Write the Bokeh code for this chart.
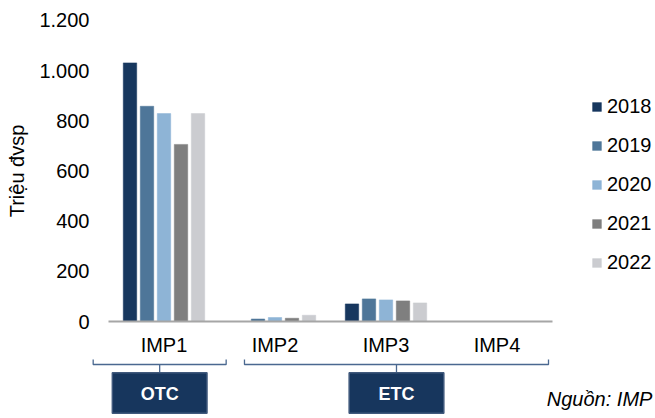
import math
from bokeh.plotting import figure
from bokeh.models import (ColumnDataSource, Range1d, FixedTicker, Legend, LegendItem)
from bokeh.transform import dodge
from bokeh.embed import file_html
from bokeh.resources import INLINE

# ---- data ----
categories = ["IMP1", "IMP2", "IMP3", "IMP4"]
years = ["2018", "2019", "2020", "2021", "2022"]
v2018 = [1031, 0, 70, 0]
v2019 = [858, 10, 90, 0]
v2020 = [829, 16, 86, 0]
v2021 = [706, 13, 82, 0]
v2022 = [829, 25, 74, 0]
y_ticks = [0, 200, 400, 600, 800, 1000, 1200]
y_tick_labels = ["0", "200", "400", "600", "800", "1.000", "1.200"]
groups = ["OTC", "ETC"]
group_first = [0, 1]
group_last = [0, 3]
source_note = "Nguồn: IMP"
y_title = "Triệu đvsp"

colors = ["#17375E", "#4E7699", "#8EB4D6", "#7F7F7F", "#CBCCD0"]
FONT = "Liberation Sans"

series = [v2018, v2019, v2020, v2021, v2022]
xc = [i + 0.5 for i in range(len(categories))]
data = {"x": xc}
for y, s in zip(years, series):
    data[y] = s
src = ColumnDataSource(data)

p = figure(width=655, height=418, output_backend="svg", toolbar_location=None,
           x_range=Range1d(-0.97297, 4.92793), y_range=Range1d(-386.7, 1279.7),
           title=None, min_border=0,
           min_border_left=0, min_border_right=0, min_border_top=0, min_border_bottom=0)
p.outline_line_color = None
p.xgrid.visible = False
p.ygrid.visible = False
p.background_fill_color = "white"
p.border_fill_color = "white"

step = 0.1532
bw = 0.121
renderers = []
for k, y in enumerate(years):
    r = p.vbar(x=dodge("x", (k - 2) * step, range=p.x_range), top=y, bottom=0,
               width=bw, source=src, fill_color=colors[k], line_color=colors[k],
               line_width=0.5)
    renderers.append(r)

# x axis (category axis) at value 0
xa = p.xaxis[0]
xa.fixed_location = 0
xa.bounds = (0, len(categories))
xa.ticker = FixedTicker(ticks=xc)
xa.major_label_overrides = {t: c for t, c in zip(xc, categories)}
xa.axis_line_color = "#A6A6A6"
xa.axis_line_width = 2
xa.major_tick_line_color = None
xa.minor_tick_line_color = None
xa.major_tick_out = 0
xa.major_tick_in = 0
xa.minor_tick_out = 0
xa.major_label_standoff = 12
xa.major_label_text_font_size = "20px"
xa.major_label_text_font = FONT
xa.major_label_text_color = "#000000"

# y axis, placed left of the category area
ya = p.yaxis[0]
ya.fixed_location = -0.16216
ya.ticker = FixedTicker(ticks=y_ticks)
ya.major_label_overrides = {t: l for t, l in zip(y_ticks, y_tick_labels)}
ya.axis_line_color = None
ya.major_tick_line_color = None
ya.minor_tick_line_color = None
ya.major_tick_out = 0
ya.major_tick_in = 0
ya.minor_tick_out = 0
ya.major_label_standoff = 1
ya.major_label_text_font_size = "20px"
ya.major_label_text_font = FONT
ya.major_label_text_color = "#000000"

# y axis title, centred on the 0..1200 value span
p.text(x=[-0.82], y=[(y_ticks[0] + y_ticks[-1]) / 2], text=[y_title], angle=math.pi / 2,
       text_align="center", text_baseline="middle", text_font_size="20px",
       text_font={"value": FONT}, text_color="#000000")

# group brackets and boxes
lpad = [-0.138, 0.225]
rpad = [0.060, -0.036]
bx0, bx1, bm = [], [], []
for g in range(len(groups)):
    a = group_first[g] + lpad[g]
    b = group_last[g] + 1 + rpad[g]
    bx0.append(a); bx1.append(b); bm.append((a + b) / 2)
y_br, y_end, y_tick = -171.4, -151.5, -204.5
p.multi_line(xs=[[a, a, b, b] for a, b in zip(bx0, bx1)],
             ys=[[y_end, y_br, y_br, y_end] for _ in bx0],
             line_color="#4A6890", line_width=1.3)
p.segment(x0=bm, y0=[y_br] * len(bm), x1=bm, y1=[y_tick] * len(bm),
          line_color="#4A6890", line_width=1.3)
p.rect(x=bm, y=[-285] * len(bm), width=[0.853] * len(bm), height=[161] * len(bm),
       fill_color="#17365D", line_color="#40597C", line_width=1.5)
p.text(x=bm, y=[-290] * len(bm), text=groups, text_align="center",
       text_baseline="middle", text_font_size="18px", text_font_style="bold",
       text_font={"value": FONT}, text_color="white")

# source note
p.text(x=[4.90], y=[-307], text=[source_note], text_align="right",
       text_baseline="middle", text_font_size="20px", text_font_style="italic",
       text_font={"value": FONT}, text_color="#000000")

legend = Legend(items=[LegendItem(label=y, renderers=[r]) for y, r in zip(years, renderers)],
                location=(591, 144), orientation="vertical",
                glyph_width=11, glyph_height=11, label_standoff=5,
                spacing=16, padding=0, margin=0, border_line_color=None,
                background_fill_alpha=0, label_text_font_size="20px",
                label_text_font=FONT, label_text_color="#000000")
p.add_layout(legend)

open("out.html", "w").write(file_html(p, INLINE))
